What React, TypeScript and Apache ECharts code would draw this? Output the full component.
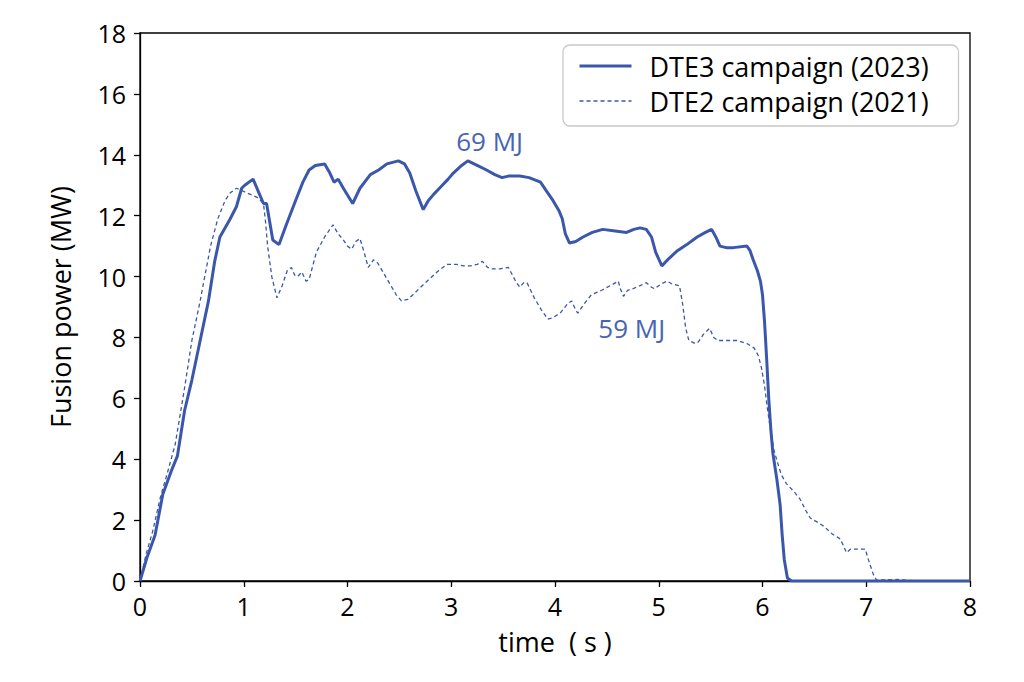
import React, { useEffect, useRef } from "react";
import * as echarts from "echarts";

const xTicks = [0, 1, 2, 3, 4, 5, 6, 7, 8];
const yTicks = [0, 2, 4, 6, 8, 10, 12, 14, 16, 18];

const dte3Name = "DTE3 campaign (2023)";
const dte2Name = "DTE2 campaign (2021)";

const dte3: [number, number][] = [
  [0, 0], [0.07, 0.8], [0.145, 1.5], [0.22, 2.85], [0.3, 3.6], [0.36, 4.1], [0.43, 5.6], [0.5, 6.6],
  [0.58, 7.9], [0.66, 9.2], [0.72, 10.5], [0.77, 11.3], [0.87, 11.9], [0.93, 12.3], [0.98, 12.9],
  [1.01, 13.0], [1.09, 13.2], [1.14, 12.8], [1.19, 12.4], [1.22, 12.4], [1.25, 11.8], [1.28, 11.2],
  [1.34, 11.05], [1.41, 11.7], [1.5, 12.5], [1.57, 13.1], [1.63, 13.5], [1.69, 13.65], [1.78, 13.7],
  [1.83, 13.4], [1.87, 13.1], [1.91, 13.2], [1.96, 12.9], [2.05, 12.4], [2.12, 12.9], [2.22, 13.35],
  [2.3, 13.5], [2.38, 13.7], [2.49, 13.8], [2.55, 13.7], [2.6, 13.4], [2.66, 12.8], [2.73, 12.2],
  [2.78, 12.5], [2.83, 12.7], [2.9, 12.95], [2.97, 13.2], [3.02, 13.4], [3.1, 13.65], [3.16, 13.8],
  [3.25, 13.65], [3.34, 13.5], [3.42, 13.35], [3.49, 13.25], [3.55, 13.3], [3.66, 13.3], [3.75, 13.25],
  [3.86, 13.1], [3.92, 12.8], [3.98, 12.5], [4.04, 12.15], [4.07, 11.9], [4.1, 11.4], [4.14, 11.1],
  [4.2, 11.15], [4.27, 11.3], [4.36, 11.45], [4.46, 11.55], [4.58, 11.5], [4.69, 11.45], [4.76, 11.55],
  [4.82, 11.6], [4.88, 11.55], [4.93, 11.3], [4.97, 10.8], [5.03, 10.35], [5.1, 10.6], [5.18, 10.85],
  [5.27, 11.05], [5.37, 11.3], [5.45, 11.45], [5.51, 11.55], [5.55, 11.3], [5.59, 11.0], [5.65, 10.95],
  [5.72, 10.95], [5.85, 11.0], [5.88, 10.85], [5.91, 10.55], [5.95, 10.2], [5.98, 9.85], [6.0, 9.4],
  [6.02, 8.5], [6.04, 7.3], [6.06, 6.0], [6.08, 5.0], [6.1, 4.2], [6.14, 3.3], [6.17, 2.5], [6.19, 1.5],
  [6.21, 0.7], [6.24, 0.1], [6.28, 0], [8, 0],
];

const dte2: [number, number][] = [
  [0, 0], [0.06, 0.9], [0.12, 1.6], [0.2, 2.8], [0.26, 3.5], [0.34, 4.5], [0.43, 6.35], [0.5, 7.9],
  [0.58, 9.2], [0.61, 9.75], [0.68, 11.0], [0.75, 11.9], [0.82, 12.5], [0.87, 12.75], [0.93, 12.9],
  [1.03, 12.75], [1.13, 12.6], [1.19, 12.4], [1.21, 11.8], [1.23, 11.0], [1.27, 10.0], [1.32, 9.3],
  [1.37, 9.7], [1.42, 10.2], [1.46, 10.3], [1.49, 10.05], [1.52, 10.0], [1.56, 10.15], [1.6, 9.85],
  [1.63, 9.9], [1.7, 10.8], [1.78, 11.3], [1.86, 11.7], [1.91, 11.4], [1.95, 11.25], [2.0, 11.0],
  [2.04, 10.9], [2.08, 11.15], [2.12, 11.25], [2.16, 10.8], [2.2, 10.3], [2.25, 10.55], [2.29, 10.45],
  [2.35, 10.1], [2.41, 9.75], [2.47, 9.4], [2.52, 9.2], [2.58, 9.25], [2.63, 9.4], [2.72, 9.7],
  [2.8, 9.95], [2.88, 10.2], [2.96, 10.4], [3.05, 10.4], [3.12, 10.35], [3.18, 10.35], [3.25, 10.4],
  [3.3, 10.5], [3.35, 10.3], [3.39, 10.25], [3.47, 10.25], [3.55, 10.3], [3.59, 10.05], [3.62, 9.85],
  [3.66, 9.65], [3.7, 9.8], [3.73, 9.8], [3.8, 9.3], [3.87, 8.9], [3.93, 8.6], [3.98, 8.65], [4.05, 8.8],
  [4.12, 9.1], [4.16, 9.2], [4.2, 8.9], [4.22, 8.8], [4.28, 9.1], [4.35, 9.4], [4.45, 9.55], [4.56, 9.75],
  [4.61, 9.85], [4.63, 9.6], [4.66, 9.35], [4.7, 9.55], [4.75, 9.6], [4.82, 9.7], [4.88, 9.8], [4.93, 9.65],
  [4.96, 9.6], [5.02, 9.75], [5.08, 9.85], [5.13, 9.75], [5.2, 9.7], [5.23, 9.1], [5.26, 8.3], [5.29, 7.9],
  [5.35, 7.8], [5.38, 7.85], [5.43, 8.1], [5.49, 8.3], [5.53, 8.0], [5.57, 7.9], [5.65, 7.9], [5.75, 7.9],
  [5.85, 7.8], [5.92, 7.65], [5.96, 7.4], [5.99, 7.0], [6.02, 6.4], [6.05, 5.6], [6.08, 4.9], [6.11, 4.3],
  [6.14, 3.95], [6.18, 3.5], [6.23, 3.2], [6.3, 2.95], [6.36, 2.7], [6.42, 2.3], [6.46, 2.07], [6.52, 1.95],
  [6.59, 1.8], [6.67, 1.55], [6.75, 1.38], [6.81, 0.93], [6.85, 1.05], [6.99, 1.05], [7.03, 0.6],
  [7.07, 0.2], [7.1, 0.03], [7.3, 0.05], [7.5, 0.0], [8, 0],
];

const annotations = [
  { text: "69 MJ", coord: [3.37, 14.45] },
  { text: "59 MJ", coord: [4.74, 8.31] },
];

const FONT = "'Open Sans', 'Noto Sans', sans-serif";
const LINE = "#3B57AB";
const NOTE = "#4765B4";

export default function App() {
  const ref = useRef<HTMLDivElement>(null);
  useEffect(() => {
    if (!ref.current) return;
    const chart = echarts.init(ref.current, undefined, { renderer: "svg" });
    const axisCommon = {
      axisLine: { show: true, onZero: false, lineStyle: { color: "#000", width: 1.3 } },
      axisTick: { show: true, inside: false, length: 6, lineStyle: { color: "#000", width: 1.3 } },
      splitLine: { show: false },
      nameTextStyle: { color: "#000", fontFamily: FONT, fontSize: 27 },
    };
    chart.setOption({
      animation: false,
      backgroundColor: "#fff",
      grid: {
        left: 140, top: 33, right: 54, bottom: 101,
        show: true, borderColor: "#000", borderWidth: 1.3, backgroundColor: "transparent",
      },
      legend: {
        orient: "vertical",
        left: 563,
        top: 45,
        padding: [5, 17, 9, 15],
        itemWidth: 52,
        itemHeight: 14,
        itemGap: 3,
        backgroundColor: "#fff",
        borderColor: "#c8c8c8",
        borderWidth: 1.3,
        borderRadius: 7,
        textStyle: {
          color: "#000", fontFamily: FONT, fontSize: 27, lineHeight: 32,
          padding: [0, 0, 0, 13], width: 292,
        },
        data: [
          {
            name: dte3Name,
            itemStyle: { opacity: 0, color: "transparent", borderWidth: 0 },
            lineStyle: { width: 3, color: LINE, type: "solid" },
          },
          {
            name: dte2Name,
            itemStyle: { opacity: 0, color: "transparent", borderWidth: 0 },
            lineStyle: { width: 1.3, color: LINE, type: [4, 3] },
          },
        ],
      },
      xAxis: {
        type: "value",
        min: xTicks[0],
        max: xTicks[xTicks.length - 1],
        interval: 1,
        name: "time  ( s )",
        nameLocation: "middle",
        nameGap: 47,
        ...axisCommon,
        axisLabel: { color: "#000", fontFamily: FONT, fontSize: 25, margin: 12 },
      },
      yAxis: {
        type: "value",
        min: yTicks[0],
        max: yTicks[yTicks.length - 1],
        interval: 2,
        name: "Fusion power (MW)",
        nameLocation: "middle",
        nameGap: 66,
        ...axisCommon,
        axisLabel: { color: "#000", fontFamily: FONT, fontSize: 25, margin: 14 },
      },
      series: [
        {
          name: dte3Name,
          type: "line",
          data: dte3,
          showSymbol: false,
          symbol: "none",
          lineStyle: { color: LINE, width: 3 },
          itemStyle: { color: LINE },
          z: 3,
          markPoint: {
            symbol: "circle",
            symbolSize: 1,
            itemStyle: { color: "transparent" },
            label: {
              show: true, position: "inside", color: NOTE, fontFamily: FONT, fontSize: 26,
              formatter: (p: any) => p.name,
            },
            data: annotations.map((a) => ({ name: a.text, coord: a.coord })),
          },
        },
        {
          name: dte2Name,
          type: "line",
          data: dte2,
          showSymbol: false,
          symbol: "none",
          lineStyle: { color: LINE, width: 1.3, type: [4, 3] },
          itemStyle: { color: LINE },
          z: 2,
        },
      ],
    });
    return () => chart.dispose();
  }, []);
  return (
    <div
      ref={ref}
      style={{ position: "fixed", left: 0, top: 0, width: 1024, height: 682, background: "#fff" }}
    />
  );
}
